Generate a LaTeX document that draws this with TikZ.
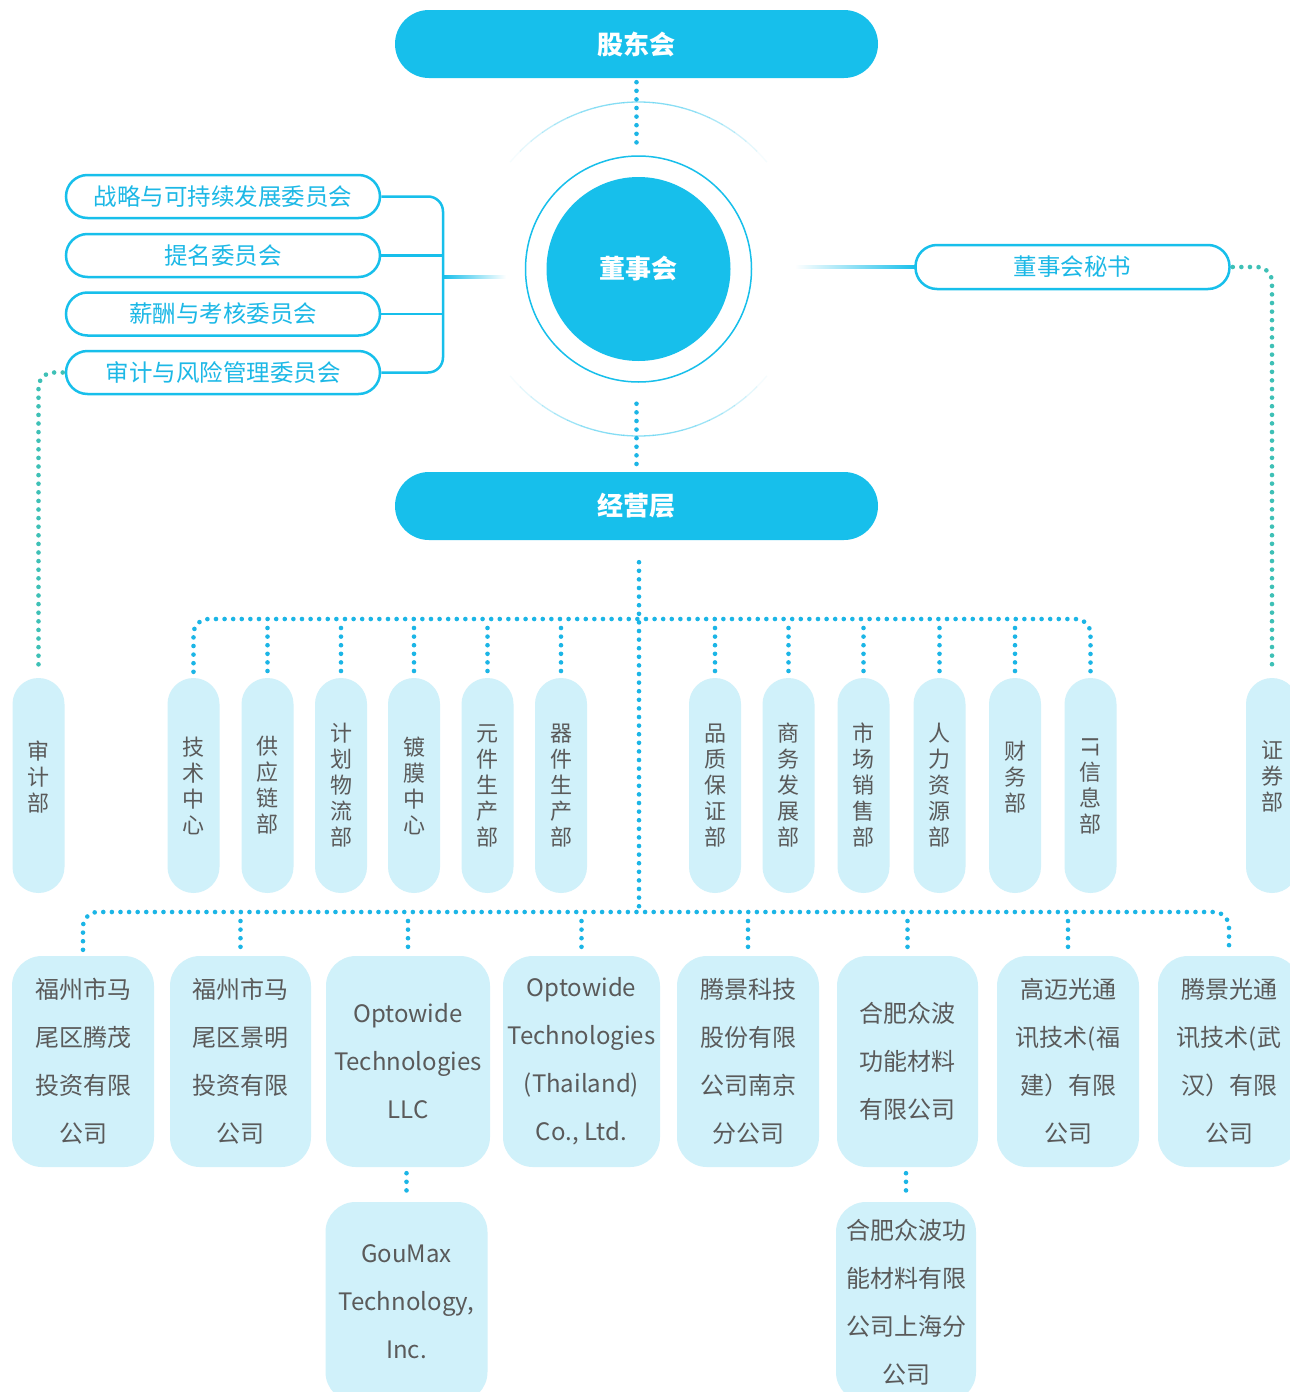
\documentclass[tikz,border=0pt]{standalone}
\usepackage{fontspec}
\usepackage{graphicx}
\setmainfont{Noto Sans CJK SC}
\usetikzlibrary{calc}
\definecolor{mblue}{HTML}{17BFEB}
\definecolor{lblue}{HTML}{D0F1FA}
\definecolor{dblue}{HTML}{1BB5E6}
\definecolor{tealc}{HTML}{3EC0B6}
\definecolor{tgray}{HTML}{5A5A5A}
\definecolor{ctext}{HTML}{1CB8E6}
\tikzset{
  blk/.style={fill=mblue, rounded corners=34, minimum width=483, minimum height=68, text=white, font=\bfseries\fontsize{26}{30}\selectfont, inner sep=0},
  comm/.style={draw=mblue, line width=2.5, fill=white, rounded corners=21.5, minimum width=314, minimum height=43, text=ctext, font=\fontsize{23.5}{28}\selectfont, inner sep=0},
  dept/.style={fill=lblue, rounded corners=26, minimum width=52, minimum height=215, text=tgray, font=\fontsize{22}{26}\selectfont, align=center, inner sep=0},
  corp/.style={fill=lblue, rounded corners=30, minimum height=211, text=tgray, font=\fontsize{24}{48}\selectfont, align=center, inner sep=0},
  bdot/.style={draw=dblue, line width=4.6, line cap=round, dash pattern=on 0pt off 8.6pt},
  tdot/.style={draw=tealc, line width=4.6, line cap=round, dash pattern=on 0pt off 8.6pt},
  bline/.style={draw=mblue, line width=2.5},
}
\begin{document}
\begin{tikzpicture}[x=1pt,y=-1pt]
\useasboundingbox (0,0) rectangle (1290,1392);
\fill[white] (0,0) rectangle (1290,1392);
\clip (0,0) rectangle (1290,1392);

% top level
\node[blk] (gdh) at (636.5,44) {股东会};
\node[blk] (jy) at (636.5,506) {经营层};
\node[circle, fill=mblue, minimum size=184, inner sep=0, text=white, font=\bfseries\fontsize{26}{30}\selectfont] (dsh) at (638.5,269) {董事会};
\node[circle, draw=mblue, line width=1.5, minimum size=226, inner sep=0] (ring) at (dsh.center) {};

% outer faded ring
\foreach \i/\o in {0/.75,1/.75,2/.72,3/.68,4/.6,5/.5,6/.4,7/.28,8/.16,9/.06}{
  \pgfmathsetmacro\aa{90+5*\i}
  \pgfmathsetmacro\ab{90-5*\i}
  \pgfmathsetmacro\ac{270+5*\i}
  \pgfmathsetmacro\ad{270-5*\i}
  \draw[mblue!70, line width=1.3, opacity=\o] ($(dsh.center)+(\aa:167)$) arc[start angle=\aa, end angle=\aa+5.2, radius=167];
  \draw[mblue!70, line width=1.3, opacity=\o] ($(dsh.center)+(\ab:167)$) arc[start angle=\ab, end angle=\ab-5.2, radius=167];
  \draw[mblue!70, line width=1.3, opacity=\o] ($(dsh.center)+(\ac:167)$) arc[start angle=\ac, end angle=\ac+5.2, radius=167];
  \draw[mblue!70, line width=1.3, opacity=\o] ($(dsh.center)+(\ad:167)$) arc[start angle=\ad, end angle=\ad-5.2, radius=167];
}

\draw[bdot, shorten <=4pt, shorten >=9pt] (gdh.south) -- (gdh.south |- ring.north);
\draw[bdot, shorten <=21pt, shorten >=2pt] (jy.north |- ring.south) -- (jy.north);

% committees
\node[comm] (c1) at (223,196.5) {战略与可持续发展委员会};
\node[comm] (c2) at (223,255.5) {提名委员会};
\node[comm] (c3) at (223,314) {薪酬与考核委员会};
\node[comm] (c4) at (223,372.5) {审计与风险管理委员会};
\coordinate (brk) at (443,0);
\draw[bline, rounded corners=15] (c1.east) -| (brk |- c4.east) -- (c4.east);
\draw[bline] (c2.east) -- (brk |- c2.east);
\draw[bline] (c3.east) -- (brk |- c3.east);
\shade[left color=mblue, right color=white] (443,275.8) rectangle (506,278.2);

% secretary
\node[comm, minimum height=44] (sec) at (1072.5,267) {董事会秘书};
\shade[left color=white, right color=mblue] (795,265.8) rectangle (916,268.2);

% departments
\node[dept] (aud) at (38.5,785.5) {审\\计\\部\\[-7pt]};
\node[dept] (d1) at (193.5,785.5) {技\\术\\中\\心};
\node[dept] (d2) at (267.5,785.5) {供\\应\\链\\部};
\node[dept] (d3) at (341,785.5) {计\\划\\物\\流\\部};
\node[dept] (d4) at (414,785.5) {镀\\膜\\中\\心};
\node[dept] (d5) at (487.5,785.5) {元\\件\\生\\产\\部};
\node[dept] (d6) at (561,785.5) {器\\件\\生\\产\\部};
\node[dept] (d7) at (715,785.5) {品\\质\\保\\证\\部};
\node[dept] (d8) at (788.5,785.5) {商\\务\\发\\展\\部};
\node[dept] (d9) at (863.5,785.5) {市\\场\\销\\售\\部};
\node[dept] (d10) at (939.5,785.5) {人\\力\\资\\源\\部};
\node[dept] (d11) at (1015,785.5) {财\\务\\部\\[-7pt]};
\node[dept] (d12) at (1090.5,785.5) {\rotatebox[origin=c]{-90}{IT}\\信\\息\\部};
\node[dept] (sdep) at (1272,785.5) {证\\券\\部\\[-7pt]};

% teal links
\draw[tdot, rounded corners=15, shorten <=2pt, shorten >=6pt] (c4.west) -| (aud.north);
\draw[tdot, rounded corners=15, shorten <=2pt, shorten >=6pt] (sec.east) -| (sdep.north);

% buses
\coordinate (tbus) at (639,619);
\coordinate (bbus) at (639,912);
\draw[bdot, shorten <=22pt] (bbus |- jy.south) -- (bbus);
\draw[bdot, rounded corners=15, shorten <=6pt, shorten >=6pt] (d1.north) |- (tbus) -| (d12.north);
\foreach \n in {d2,d3,d4,d5,d6,d7,d8,d9,d10,d11}{
  \draw[bdot, shorten <=9pt, shorten >=6pt] (\n.north |- tbus) -- (\n.north);
}

% companies
\node[corp, minimum width=142] (co1) at (83,1061.5) {福州市马\\尾区腾茂\\投资有限\\公司};
\node[corp, minimum width=141] (co2) at (240.5,1061.5) {福州市马\\尾区景明\\投资有限\\公司};
\node[corp, minimum width=164] (co3) at (408,1061.5) {Optowide\\Technologies\\LLC};
\node[corp, minimum width=157] (co4) at (581.5,1061.5) {Optowide\\Technologies\\(Thailand)\\Co., Ltd.};
\node[corp, minimum width=142] (co5) at (748,1061.5) {腾景科技\\股份有限\\公司南京\\分公司};
\node[corp, minimum width=141] (co6) at (907.5,1061.5) {合肥众波\\功能材料\\有限公司};
\node[corp, minimum width=142] (co7) at (1068,1061.5) {高迈光通\\讯技术(福\\建）有限\\公司};
\node[corp, minimum width=142] (co8) at (1229,1061.5) {腾景光通\\讯技术(武\\汉）有限\\公司};

\draw[bdot, rounded corners=15, shorten <=6pt, shorten >=6pt] (co1.north) |- (bbus) -| (co8.north);
\foreach \n in {co2,co3,co4,co5,co6,co7}{
  \draw[bdot, shorten <=9pt, shorten >=6pt] (\n.north |- bbus) -- (\n.north);
}

% sub-companies
\node[corp, minimum width=162, minimum height=200] (gm) at (406.5,1302) {GouMax\\Technology,\\Inc.};
\node[corp, minimum width=140, minimum height=200] (hf) at (906,1302) {合肥众波功\\能材料有限\\公司上海分\\公司};
\draw[bdot, shorten <=6pt, shorten >=4pt] (co3.south -| gm.north) -- (gm.north);
\draw[bdot, shorten <=6pt, shorten >=4pt] (co6.south -| hf.north) -- (hf.north);
\end{tikzpicture}
\end{document}
